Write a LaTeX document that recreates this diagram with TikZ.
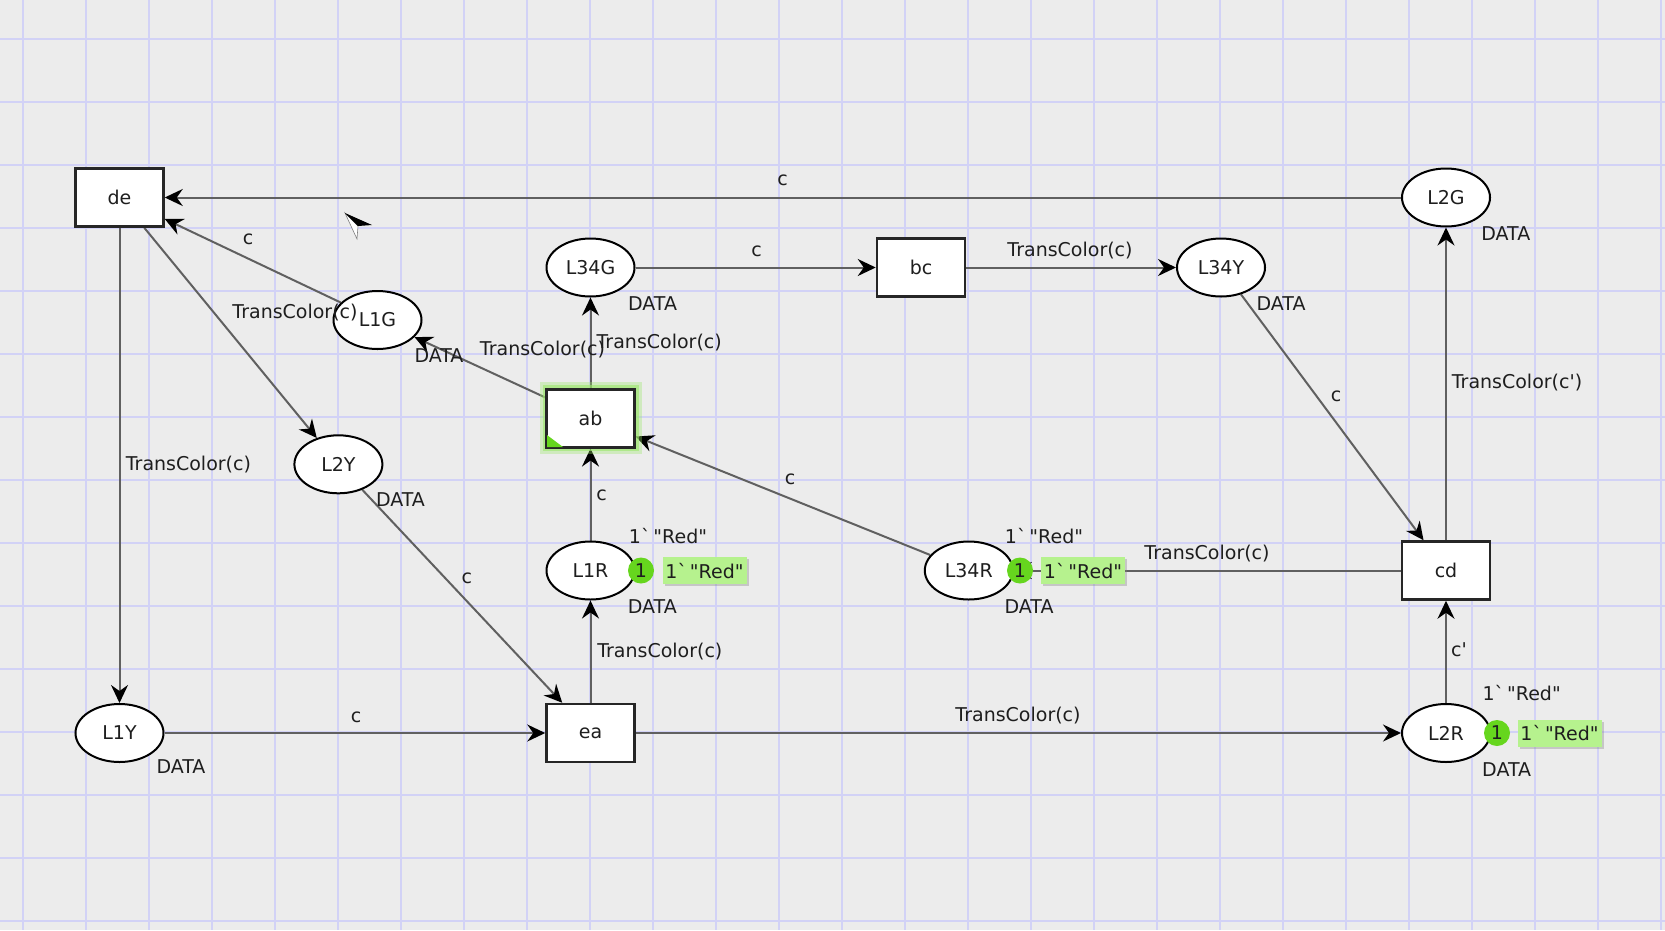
\documentclass[tikz,border=0pt]{standalone}
\usepackage{fontspec}
\setmainfont{DejaVu Sans}
% typewriter slot holds the same face, used where quote characters must stay straight
\setmonofont{DejaVu Sans}
\usetikzlibrary{arrows.meta,shapes.geometric,shadows}

\definecolor{bgc}{HTML}{ECECEC}
\definecolor{gridc}{HTML}{D2D2F6}
\definecolor{linegray}{HTML}{606060}
\definecolor{tokgreen}{HTML}{66D61E}
\definecolor{boxgreen}{HTML}{B6F28E}
\definecolor{glowgreen}{HTML}{9BE86A}
\definecolor{inkc}{HTML}{1E1E1E}

\newcommand\netfont{\fontsize{19}{22}\selectfont}
\newcommand\redmark{{\ttfamily 1`\hspace{3pt}"Red"}}
\newcommand\cprime{{\ttfamily c'}}

\pgfdeclarelayer{bg}
\pgfdeclarelayer{arcs}
\pgfsetlayers{bg,arcs,main}

\begin{document}
\begin{tikzpicture}[x=1pt,y=-1pt,
  place/.style={ellipse, draw=black, line width=2pt, fill=white,
    minimum width=88pt, minimum height=58pt, inner sep=0pt, font=\netfont, text=inkc},
  trans/.style={rectangle, draw=black!85, line width=2.5pt, fill=white,
    minimum width=88pt, minimum height=58pt, inner sep=0pt, font=\netfont, text=inkc},
  arc/.style={draw=linegray, line width=2pt,
    -{Stealth[length=18pt,width=17pt,inset=6pt,color=black]}},
  lbl/.style={font=\netfont, inner sep=0pt, text=inkc},
  tok/.style={circle, fill=tokgreen, minimum size=26pt, inner sep=0pt,
    font=\netfont, text=inkc},
  tokbox/.style={rectangle, fill=boxgreen, minimum width=84pt, minimum height=27pt,
    inner sep=0pt, font=\netfont, text=inkc,
    drop shadow={shadow xshift=2pt, shadow yshift=-2pt, opacity=0.35}},
  gridline/.style={draw=gridc, line width=1.5pt}
]
\useasboundingbox (0,0) rectangle (1665,930);

% canvas and grid
\begin{pgfonlayer}{bg}
  \fill[bgc] (0,0) rectangle (1665,930);
  \foreach \i in {0,...,26} \draw[gridline] ({23+63*\i},0) -- ({23+63*\i},930);
  \foreach \j in {0,...,14} \draw[gridline] (0,{39+63*\j}) -- (1665,{39+63*\j});
\end{pgfonlayer}

% places and transitions
\node[trans] (de)   at (119.5,197.5) {de};
\node[place] (L2G)  at (1446,197.5)  {L2G};
\node[place] (L34G) at (590.5,267.5) {L34G};
\node[trans] (bc)   at (921,267.5)   {bc};
\node[place] (L34Y) at (1221,267.5)  {L34Y};
\node[place] (L1G)  at (377.5,320)   {L1G};
\node[trans, preaction={draw=glowgreen, line width=14pt, opacity=0.35},
             preaction={draw=glowgreen, line width=8pt, opacity=0.6}]
             (ab)   at (590.5,418.3) {ab};
\node[place] (L2Y)  at (338.4,464.3) {L2Y};
\node[place] (L1R)  at (590.5,570.5) {L1R};
\node[place] (L34R) at (968.8,570.5) {L34R};
\node[trans] (cd)   at (1446,570.5)  {cd};
\node[place] (L1Y)  at (119.5,733)   {L1Y};
\node[trans] (ea)   at (590.5,733)   {ea};
\node[place] (L2R)  at (1446,733)    {L2R};

% enabled-transition corner mark
\fill[tokgreen] (547,435) -- (547,447) -- (563,447) -- cycle;

% arcs
\begin{pgfonlayer}{arcs}
  \draw[arc] (L2G) -- (de);
  \draw[arc] (L1G) -- (de);
  \draw[arc] (de) -- (L2Y);
  \draw[arc] (de) -- (L1Y);
  \draw[arc] (ab) -- (L1G);
  \draw[arc] (ab) -- (L34G);
  \draw[arc] (L34G) -- (bc);
  \draw[arc] (bc) -- (L34Y);
  \draw[arc] (L34Y) -- (cd);
  \draw[arc] (cd) -- (L2G);
  \draw[arc] (L2R) -- (cd);
  \draw[arc] (cd) -- (L34R);
  \draw[arc] (L34R) -- (ab);
  \draw[arc] (L1R) -- (ab);
  \draw[arc] (ea) -- (L1R);
  \draw[arc] (ea) -- (L2R);
  \draw[arc] (L1Y) -- (ea);
  \draw[arc] (L2Y) -- (ea);
\end{pgfonlayer}

% markings
\node[tok]    (tk1) at (641,570.5)   {1};
\node[tokbox] (mk1) at (704.5,570.7) {\redmark};
\node[tok]    (tk2) at (1020,570.5)  {1};
\node[tokbox] (mk2) at (1083,570.7)  {\redmark};
\node[tok]    (tk3) at (1497,733)    {1};
\node[tokbox] (mk3) at (1559.5,733)  {\redmark};

\node[lbl] (im1) at (668,536)    {\redmark};
\node[lbl] (im2) at (1044,536)   {\redmark};
\node[lbl] (im3) at (1521.7,693) {\redmark};

% colour set labels
\node[lbl] (d1) at (1505.8,233.3) {DATA};
\node[lbl] (d2) at (1281,303.3)   {DATA};
\node[lbl] (d3) at (652.5,303.3)  {DATA};
\node[lbl] (d4) at (439,356)      {DATA};
\node[lbl] (d5) at (400.5,500)    {DATA};
\node[lbl] (d6) at (181,766.7)    {DATA};
\node[lbl] (d7) at (652.3,606.7)  {DATA};
\node[lbl] (d8) at (1029,606.7)   {DATA};
\node[lbl] (d9) at (1506.7,770)   {DATA};

% arc inscriptions
\node[lbl] (a1)  at (782.6,180.5) {c};
\node[lbl] (a2)  at (248,239)     {c};
\node[lbl] (a3)  at (295,313)     {TransColor(c)};
\node[lbl] (a4)  at (188.4,465)   {TransColor(c)};
\node[lbl] (a5)  at (542.5,349.3) {TransColor(c)};
\node[lbl] (a6)  at (659.2,342.7) {TransColor(c)};
\node[lbl] (a7)  at (756.5,251)   {c};
\node[lbl] (a8)  at (1070,250.6)  {TransColor(c)};
\node[lbl] (a9)  at (1336,396.7)  {c};
\node[lbl] (a10) at (1517,382.7)  {TransColor({\ttfamily c'})};
\node[lbl] (a11) at (1459,650)    {\cprime};
\node[lbl] (a12) at (1207,553.3)  {TransColor(c)};
\node[lbl] (a13) at (790,479)     {c};
\node[lbl] (a14) at (601.7,495)   {c};
\node[lbl] (a15) at (659.8,651.7) {TransColor(c)};
\node[lbl] (a16) at (1018,716)    {TransColor(c)};
\node[lbl] (a17) at (356,717.3)   {c};
\node[lbl] (a18) at (466.8,578.3) {c};

% mouse pointer
\filldraw[fill=white, draw=gray, line width=0.6pt] (345,213) -- (358,226) -- (357,239) -- cycle;
\fill[black] (345,213) -- (372,225) -- (358,226) -- cycle;
\end{tikzpicture}
\end{document}
